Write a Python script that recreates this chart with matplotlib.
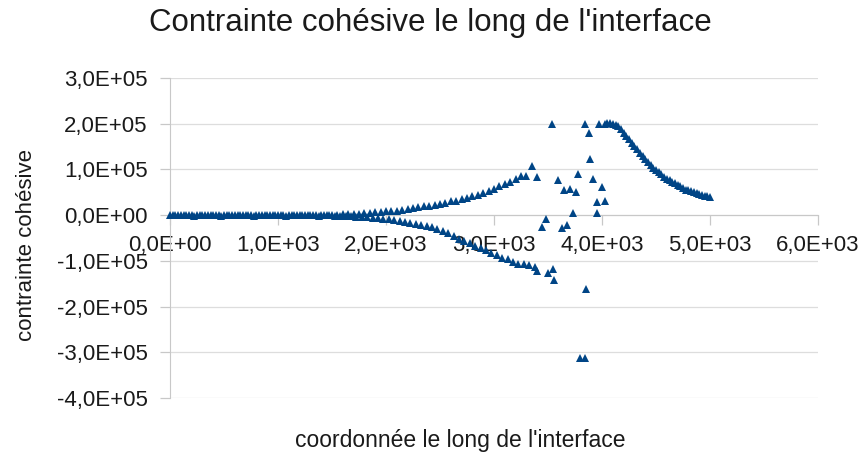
import matplotlib
matplotlib.use("Agg")
import matplotlib.pyplot as plt
from matplotlib.ticker import FuncFormatter, MultipleLocator

plt.rcParams['font.family'] = ['Liberation Sans', 'DejaVu Sans']

# Upper branch (x, stress in 1e5)
upper_x = [0, 50, 100, 150, 200, 250, 300, 350, 400, 450, 500, 550, 600, 650, 700, 750,
           800, 850, 900, 950, 1000, 1050, 1100, 1150, 1200, 1250, 1300, 1350, 1400, 1450,
           1500, 1550, 1600, 1650, 1700, 1750, 1800, 1850, 1900, 1950, 2000, 2050, 2100,
           2150, 2200, 2250, 2300, 2350, 2400, 2450, 2500, 2550, 2600, 2650, 2700, 2750,
           2800, 2850, 2900, 2950, 3000, 3050, 3100, 3150, 3200, 3250, 3300, 3350, 3400]
upper_y = [0.00, 0.00, 0.00, 0.01, 0.00, 0.00, 0.01, 0.00, 0.00, 0.00, 0.01, 0.00, 0.00,
           0.00, 0.01, 0.00, 0.00, 0.00, 0.00, 0.01, 0.00, 0.00, 0.00, 0.00, 0.01, 0.00,
           0.00, 0.00, 0.01, 0.01, 0.01, 0.01, 0.02, 0.02, 0.03, 0.03, 0.04, 0.05, 0.06,
           0.07, 0.08, 0.09, 0.10, 0.11, 0.13, 0.15, 0.17, 0.19, 0.21, 0.23, 0.25, 0.27,
           0.30, 0.32, 0.35, 0.38, 0.41, 0.44, 0.48, 0.53, 0.58, 0.63, 0.68, 0.73, 0.80,
           0.85, 0.86, 1.07, 0.84]

# Lower branch
lower_x = [25, 75, 125, 175, 225, 275, 325, 375, 425, 475, 525, 575, 625, 675, 725, 775,
           825, 875, 925, 975, 1025, 1075, 1125, 1175, 1225, 1275, 1325, 1375, 1425, 1475,
           1525, 1575, 1625, 1675, 1725, 1775, 1825, 1875, 1925, 1975, 2025, 2075, 2125,
           2175, 2225, 2275, 2325, 2375, 2425, 2475, 2525, 2575, 2625, 2675, 2725, 2775,
           2825, 2875, 2925, 2975, 3025, 3075, 3125, 3175, 3225, 3275, 3325, 3375]
lower_y = [0.00, 0.00, 0.00, 0.00, -0.01, 0.00, 0.00, 0.00, 0.00, -0.01, 0.00, 0.00, 0.00,
           0.00, 0.00, -0.01, 0.00, 0.00, 0.00, 0.00, 0.00, -0.01, 0.00, 0.00, 0.00, 0.00,
           0.00, -0.01, 0.00, 0.00, -0.01, -0.01, -0.01, -0.02, -0.03, -0.04, -0.05, -0.06,
           -0.07, -0.08, -0.09, -0.11, -0.13, -0.15, -0.17, -0.19, -0.21, -0.24, -0.27,
           -0.31, -0.35, -0.40, -0.46, -0.52, -0.57, -0.62, -0.67, -0.72, -0.77, -0.83,
           -0.88, -0.93, -0.97, -1.02, -1.06, -1.06, -1.08, -1.13]

# Scattered zone around the crack tip
mid_x = [3395, 3441, 3479, 3497, 3540, 3549, 3553, 3596, 3627, 3648, 3679, 3704, 3735,
         3759, 3781, 3796, 3843, 3843, 3849, 3883, 3889, 3914, 3951, 3957, 3975, 3997, 4028]
mid_y = [-1.22, -0.26, -0.09, -1.27, 2.00, -1.17, -1.41, 0.77, -0.29, 0.56, -0.22, 0.58,
         0.04, 0.51, 0.91, -3.12, -3.13, 1.99, -1.62, 1.80, 1.22, 0.80, 0.29, 0.04, 2.00,
         0.62, 0.31]

# Tail (decay after the peak)
tail_x = [4025, 4050, 4075, 4100, 4125, 4150, 4175, 4200, 4225, 4250, 4275, 4300, 4325,
          4350, 4375, 4400, 4425, 4450, 4475, 4500, 4525, 4550, 4575, 4600, 4625, 4650,
          4675, 4700, 4725, 4750, 4775, 4800, 4825, 4850, 4875, 4900, 4925, 4950, 4975, 5000]
tail_y = [2.00, 2.02, 2.02, 2.00, 1.98, 1.94, 1.88, 1.80, 1.73, 1.66, 1.58, 1.51, 1.44,
          1.37, 1.30, 1.23, 1.17, 1.10, 1.04, 0.98, 0.94, 0.89, 0.84, 0.80, 0.76, 0.73,
          0.70, 0.67, 0.63, 0.59, 0.56, 0.54, 0.52, 0.50, 0.48, 0.46, 0.44, 0.42, 0.41, 0.39]

SCALE = 1e5
xs = upper_x + lower_x + mid_x + tail_x
ys = [v * SCALE for v in upper_y + lower_y + mid_y + tail_y]

fig = plt.figure(figsize=(8.6, 4.59), dpi=100)
ax = fig.add_axes([170 / 860, 1 - 398 / 459, 648 / 860, 320 / 459])

ax.plot(xs, ys, linestyle='none', marker='^', markersize=5.8, color='#004586',
        markeredgewidth=0, zorder=3, clip_on=False)

ax.set_xlim(0, 6000)
ax.set_ylim(-4e5, 3e5)
ax.xaxis.set_major_locator(MultipleLocator(1000))
ax.yaxis.set_major_locator(MultipleLocator(1e5))

fmt = FuncFormatter(lambda v, p: f"{v:.1E}".replace('.', ','))
ax.xaxis.set_major_formatter(fmt)
ax.yaxis.set_major_formatter(fmt)

grid_c = '#dddddd'
ax.grid(axis='y', color=grid_c, linewidth=0.9, zorder=0)
ax.set_axisbelow(True)
for s in ['top', 'right']:
    ax.spines[s].set_visible(False)
ax.spines['left'].set_color('#c8c8c8')
ax.spines['bottom'].set_color('#c8c8c8')
ax.spines['bottom'].set_position(('data', 0))

ax.tick_params(axis='both', colors='#c8c8c8', labelcolor='#1a1a1a', labelsize=16,
               length=7, width=0.9)
ax.tick_params(axis='x', pad=7)
ax.tick_params(axis='y', pad=9)

fig.text(0.5, 1 - 23 / 459, "Contrainte cohésive le long de l'interface", ha='center',
         va='center', fontsize=22.5, color='#1a1a1a')
fig.text(460 / 860, 1 - 440 / 459, "coordonnée le long de l'interface", ha='center',
         va='center', fontsize=16.5, color='#1a1a1a')
fig.text(27 / 860, 1 - 245 / 459, "contrainte cohésive", ha='center', va='center',
         rotation=90, fontsize=16, color='#1a1a1a')

fig.savefig('out.png', dpi=100, facecolor='white')
